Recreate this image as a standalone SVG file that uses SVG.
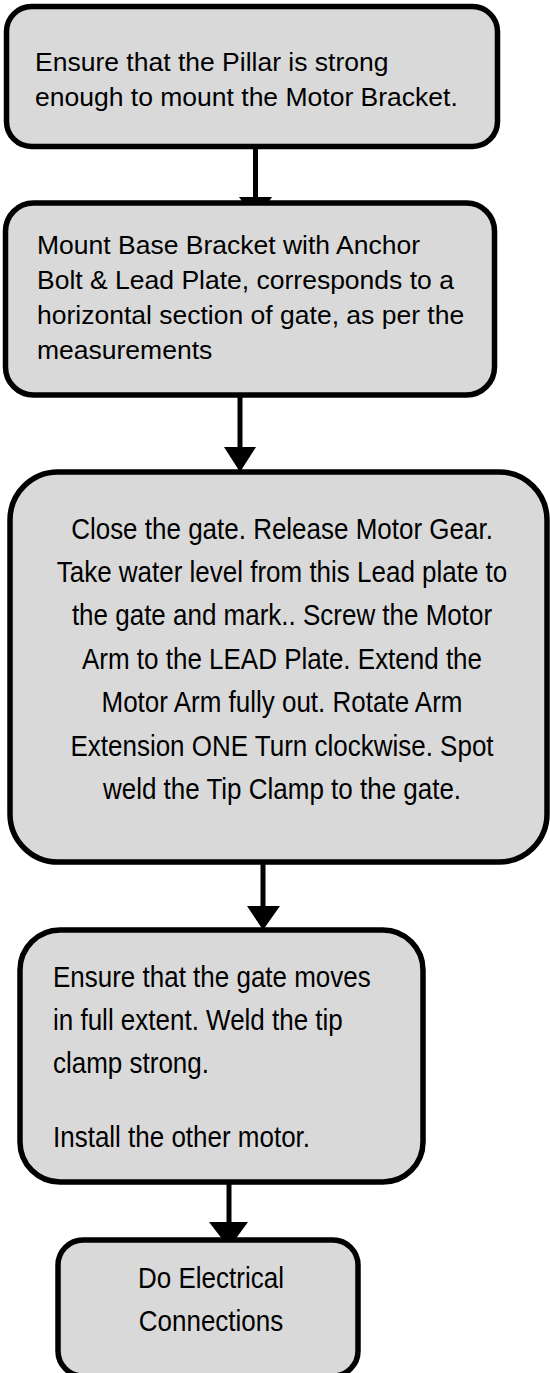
<svg xmlns="http://www.w3.org/2000/svg" width="550" height="1373" viewBox="0 0 550 1373">
<style>
.box{fill:#d9d9d9;stroke:#000;stroke-width:5.5}
.t{font-family:"Liberation Sans",Arial,sans-serif;fill:#000;font-size:26px}
.s{font-size:26.5px}
.c{text-anchor:middle}
.ln{stroke:#000;stroke-width:5;fill:none}
.hd{fill:#000}
</style>
<rect width="550" height="1373" fill="#fff"/>
<g id="connectors">
<line class="ln" x1="255.5" y1="148" x2="255.5" y2="199"/>
<polygon class="hd" points="239,197 272,197 255.5,220"/>
<line class="ln" x1="240" y1="397" x2="240" y2="449"/>
<polygon class="hd" points="224,447 256,447 240,472"/>
<line class="ln" x1="263" y1="862" x2="263" y2="908"/>
<polygon class="hd" points="247,906 280,906 263,930"/>
<line class="ln" x1="229" y1="1182" x2="229" y2="1224"/>
<polygon class="hd" points="209,1222 248,1222 229,1248"/>
</g>
<g id="n1">
<rect class="box" x="6.5" y="6.5" width="491" height="140" rx="25"/>
<text class="t s" x="35" y="71">Ensure that the Pillar is strong</text>
<text class="t s" x="35" y="106">enough to mount the Motor Bracket.</text>
</g>
<g id="n2">
<rect class="box" x="5.5" y="203" width="489" height="192" rx="28"/>
<text class="t s" x="37" y="254">Mount Base Bracket with Anchor</text>
<text class="t s" x="37" y="289">Bolt &amp; Lead Plate, corresponds to a</text>
<text class="t s" x="37" y="324">horizontal section of gate, as per the</text>
<text class="t s" x="37" y="359">measurements</text>
</g>
<g id="n3">
<rect class="box" x="10" y="472" width="537" height="390" rx="48"/>
<text class="t c" transform="translate(282,538.5) scale(1,1.14)">Close the gate. Release Motor Gear.</text>
<text class="t c" transform="translate(282,581.9) scale(1,1.14)">Take water level from this Lead plate to</text>
<text class="t c" transform="translate(282,625.3) scale(1,1.14)">the gate and mark.. Screw the Motor</text>
<text class="t c" transform="translate(282,668.7) scale(1,1.14)">Arm to the LEAD Plate. Extend the</text>
<text class="t c" transform="translate(282,712.1) scale(1,1.14)">Motor Arm fully out. Rotate Arm</text>
<text class="t c" transform="translate(282,755.5) scale(1,1.14)">Extension ONE Turn clockwise. Spot</text>
<text class="t c" transform="translate(282,798.9) scale(1,1.14)">weld the Tip Clamp to the gate.</text>
</g>
<g id="n4">
<rect class="box" x="20" y="930" width="403" height="252" rx="40"/>
<text class="t" transform="translate(53,987) scale(1,1.14)">Ensure that the gate moves</text>
<text class="t" transform="translate(53,1030) scale(1,1.14)">in full extent. Weld the tip</text>
<text class="t" transform="translate(53,1073) scale(1,1.14)">clamp strong.</text>
<text class="t" transform="translate(53,1147) scale(1,1.14)">Install the other motor.</text>
</g>
<g id="n5">
<rect class="box" x="58" y="1240" width="300" height="136" rx="25"/>
<text class="t c" transform="translate(211,1288) scale(1,1.14)">Do Electrical</text>
<text class="t c" transform="translate(211,1331) scale(1,1.14)">Connections</text>
</g>
</svg>
